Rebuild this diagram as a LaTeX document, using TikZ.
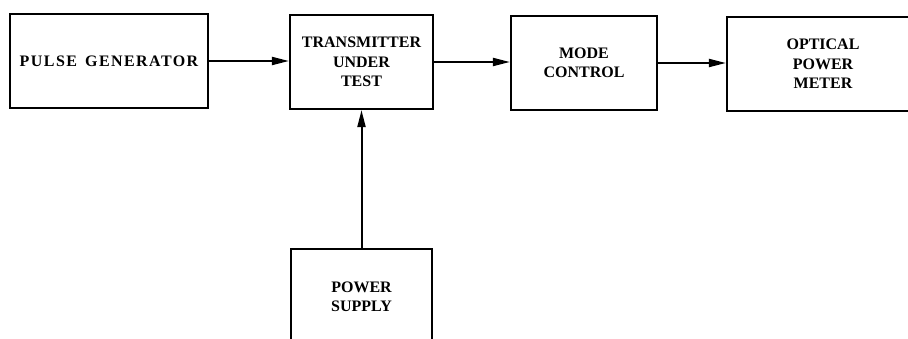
\documentclass[tikz,border=0pt]{standalone}
\usepackage{fontspec}
\setmainfont{Liberation Serif}
\usetikzlibrary{arrows.meta}
\tikzset{
  blk/.style={draw, line width=2.2pt, rectangle, align=center, inner sep=0pt,
    font=\fontsize{16}{19.5}\selectfont\bfseries},
  conn/.style={line width=2pt, -{Triangle[length=17pt,width=8pt]}}
}
\begin{document}
\begin{tikzpicture}[x=1pt,y=-1pt]
\useasboundingbox (0,0) rectangle (908,339);
\clip (0,0) rectangle (908,339);
\node[blk, minimum width=198pt, minimum height=94pt] (pg) at (109,61)
  {\addfontfeature{LetterSpace=9}PULSE\, GENERATOR};
\node[blk, minimum width=143pt, minimum height=94pt] (tx) at (361.5,62)
  {TRANSMITTER\\UNDER\\TEST};
\node[blk, minimum width=146pt, minimum height=94pt] (mc) at (584,63)
  {MODE\\CONTROL};
\node[blk, minimum width=192pt, minimum height=94pt] (opm) at (823,64)
  {OPTICAL\\POWER\\METER};
\node[blk, minimum width=141pt, minimum height=96pt] (ps) at (361.5,297)
  {POWER\\SUPPLY};
\draw[conn] (pg.east) -- (pg.east -| tx.west);
\draw[conn] (tx.east) -- (tx.east -| mc.west);
\draw[conn] (mc.east) -- (mc.east -| opm.west);
\draw[conn] (ps.north) -- (tx.south);
\end{tikzpicture}
\end{document}
